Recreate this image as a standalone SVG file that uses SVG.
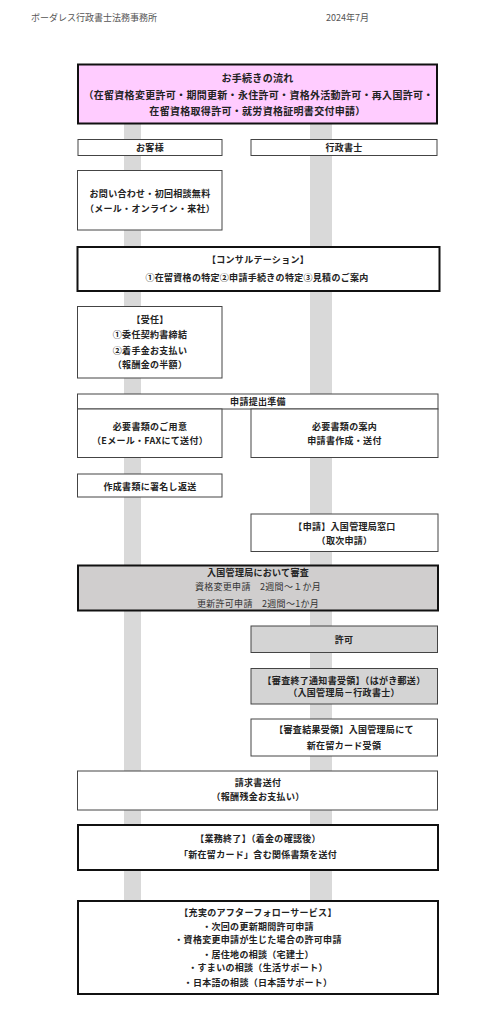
<svg xmlns="http://www.w3.org/2000/svg" width="495" height="1024" viewBox="0 0 495 1024">
<style>
text{font-family:"Noto Sans CJK JP","Noto Sans CJK SC",sans-serif;font-size:9px;font-weight:bold;fill:#222;text-anchor:middle;letter-spacing:0.3px}
.hd{font-weight:normal;fill:#555;text-anchor:start;letter-spacing:0}
.n{font-weight:normal;fill:#333}
.t{font-size:10px;letter-spacing:0.3px}
.b{fill:#fff;stroke:#444;stroke-width:1}
.k{fill:#fff;stroke:#111;stroke-width:2}
.g{fill:#d4d4d4;stroke:#444;stroke-width:1}
.gk{fill:#d0cece;stroke:#111;stroke-width:2}
.bar{fill:#d9d9d9}
</style>
<g id="header">
<text class="hd" x="31" y="21">ボーダレス行政書士法務事務所</text>
<text class="hd" x="326" y="21">2024年7月</text>
</g>
<g id="connectors">
<rect class="bar" x="124" y="124" width="17" height="777"/>
<rect class="bar" x="310" y="124" width="22" height="777"/>
</g>
<g id="title">
<rect x="78" y="64.5" width="359" height="59" fill="#ffccff" stroke="#111" stroke-width="2"/>
<text class="t" x="257.5" y="82">お手続きの流れ</text>
<text class="t" x="258.5" y="98.5">（在留資格変更許可・期間更新・永住許可・資格外活動許可・再入国許可・</text>
<text class="t" x="257.5" y="114.5">在留資格取得許可・就労資格証明書交付申請）</text>
</g>
<g id="lane-client">
<rect class="b" x="78" y="139.5" width="144" height="16"/>
<text x="150" y="150.5">お客様</text>
</g>
<g id="lane-office">
<rect class="b" x="251" y="139.5" width="186" height="16"/>
<text x="344" y="150.5">行政書士</text>
</g>
<g id="inquiry">
<rect class="b" x="77.5" y="170.5" width="144.5" height="59.5"/>
<text x="150" y="196.5">お問い合わせ・初回相談無料</text>
<text x="150" y="211.5">（メール・オンライン・来社）</text>
</g>
<g id="consultation">
<rect class="k" x="77.5" y="247" width="362" height="44"/>
<text x="258" y="262.5">【コンサルテーション】</text>
<text x="257" y="280.5">①在留資格の特定②申請手続きの特定③見積のご案内</text>
</g>
<g id="engagement">
<rect class="b" x="77.5" y="306.5" width="144.5" height="71.5"/>
<text x="150" y="322.5">【受任】</text>
<text x="150" y="337.5">①委任契約書締結</text>
<text x="150" y="354">②着手金お支払い</text>
<text x="150" y="367.5">（報酬金の半額）</text>
</g>
<g id="prep-header">
<rect class="b" x="77.5" y="394" width="360.5" height="15"/>
<text x="258" y="404.5">申請提出準備</text>
</g>
<g id="prep-client">
<rect class="b" x="77.5" y="409" width="144.5" height="48.5"/>
<text x="150" y="430">必要書類のご用意</text>
<text x="150" y="444">（Eメール・FAXにて送付）</text>
</g>
<g id="prep-office">
<rect class="b" x="251" y="409" width="187" height="48.5"/>
<text x="344.5" y="430">必要書類の案内</text>
<text x="344.5" y="444">申請書作成・送付</text>
</g>
<g id="sign">
<rect class="b" x="77.5" y="474" width="144.5" height="23"/>
<text x="150" y="489.5">作成書類に署名し返送</text>
</g>
<g id="apply">
<rect class="b" x="251" y="514" width="187" height="37.5"/>
<text x="344.5" y="529.5">【申請】入国管理局窓口</text>
<text x="344.5" y="544">（取次申請）</text>
</g>
<g id="review">
<rect class="gk" x="78" y="565.5" width="360" height="45"/>
<text x="258" y="576">入国管理局において審査</text>
<text class="n" x="258" y="590">資格変更申請　2週間～１か月</text>
<text class="n" x="258" y="606.5">更新許可申請　2週間～1か月</text>
</g>
<g id="permit">
<rect class="g" x="251" y="626" width="186.5" height="26.5"/>
<text x="344" y="642.5">許可</text>
</g>
<g id="notice">
<rect class="g" x="251" y="668.5" width="186.5" height="35.5"/>
<text x="344" y="684">【審査終了通知書受領】（はがき郵送）</text>
<text x="344" y="696">（入国管理局－行政書士）</text>
</g>
<g id="result">
<rect class="b" x="251" y="719" width="186.5" height="37"/>
<text x="344" y="732.5">【審査結果受領】入国管理局にて</text>
<text x="344" y="748.5">新在留カード受領</text>
</g>
<g id="invoice">
<rect class="b" x="77.5" y="771" width="360" height="39"/>
<text x="258" y="785.5">請求書送付</text>
<text x="258" y="800">（報酬残金お支払い）</text>
</g>
<g id="completion">
<rect class="k" x="78" y="825" width="360" height="45"/>
<text x="258" y="842">【業務終了】（着金の確認後）</text>
<text x="258" y="857.5">「新在留カード」含む関係書類を送付</text>
</g>
<g id="aftercare">
<rect class="k" x="78" y="901" width="360" height="93"/>
<text x="258" y="916">【充実のアフターフォローサービス】</text>
<text x="258" y="929.5">・次回の更新期間許可申請</text>
<text x="258" y="942.5">・資格変更申請が生じた場合の許可申請</text>
<text x="258" y="957.5">・居住地の相談（宅建士）</text>
<text x="258" y="970.5">・すまいの相談（生活サポート）</text>
<text x="258" y="986">・日本語の相談（日本語サポート）</text>
</g>
</svg>
